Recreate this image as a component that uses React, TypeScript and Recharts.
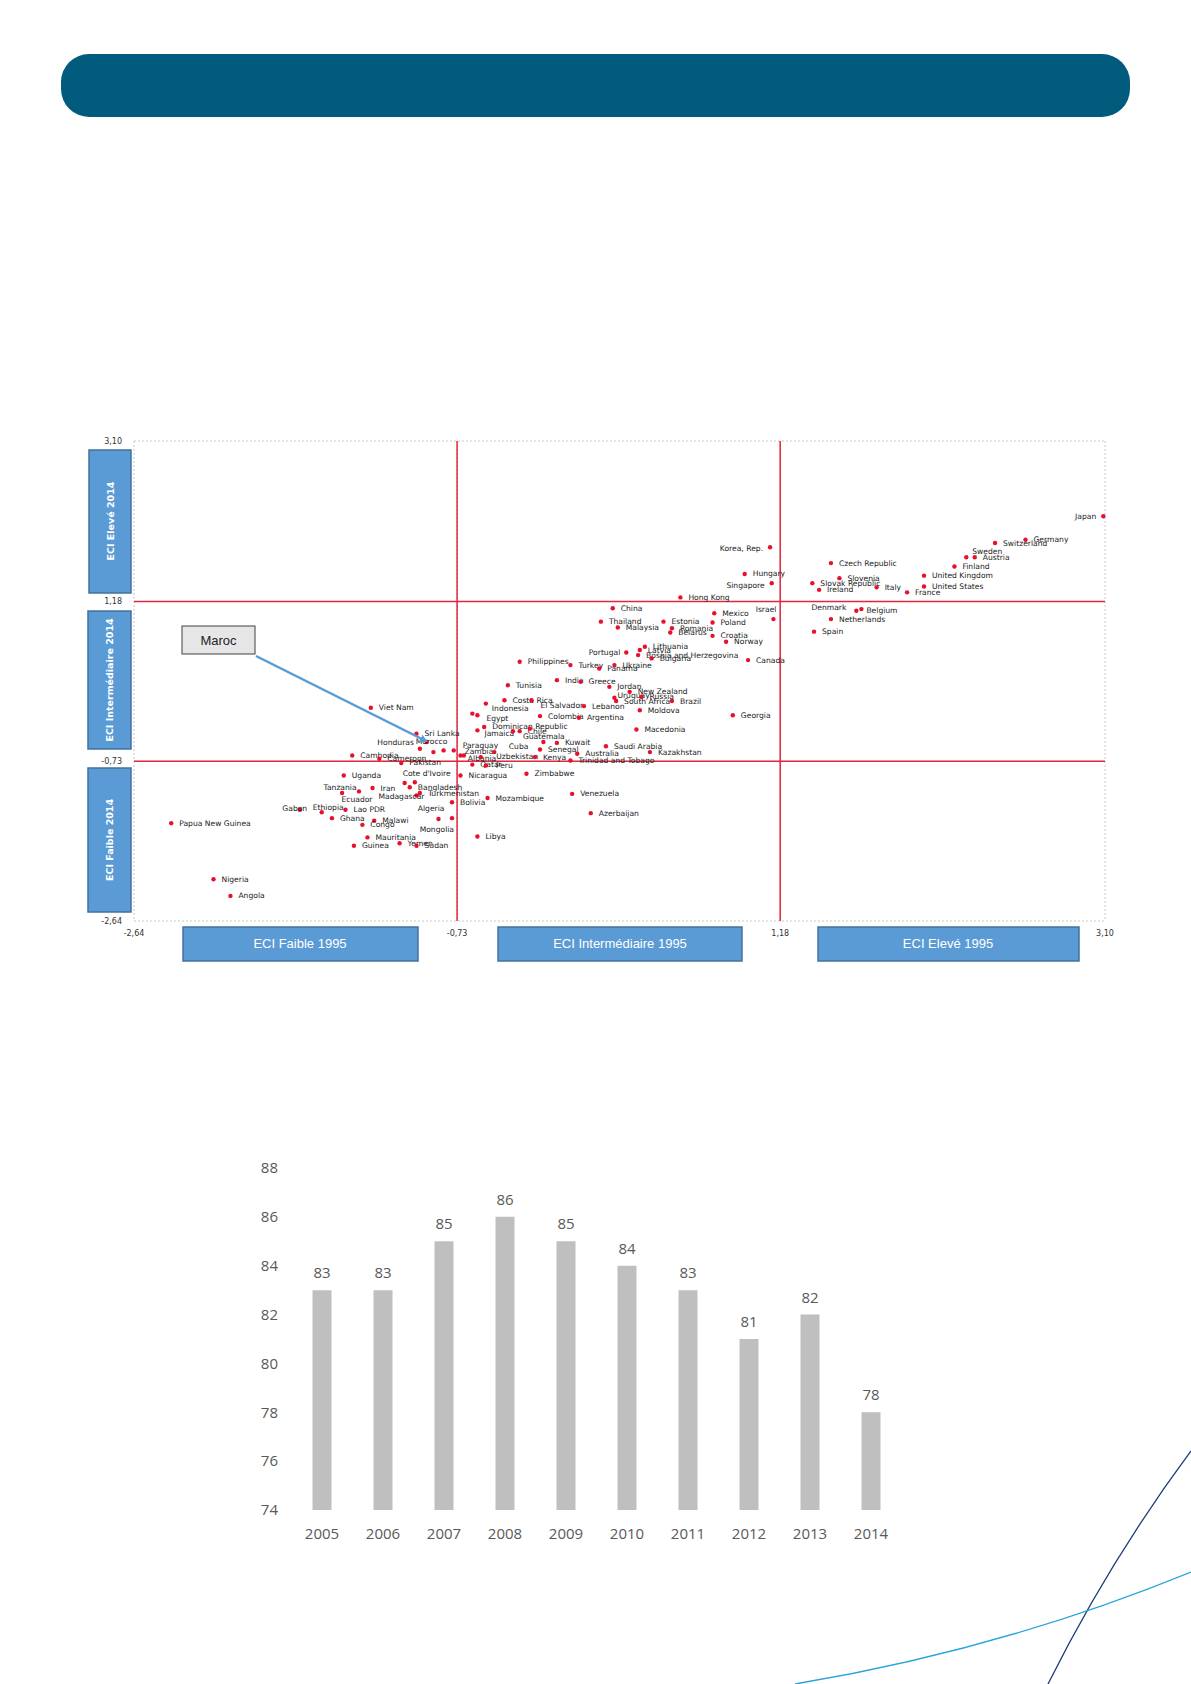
import React from 'react';
import {
  ScatterChart, Scatter, XAxis, YAxis, CartesianGrid, ReferenceLine,
  BarChart, Bar, LabelList,
} from 'recharts';

// ECI 1995 (x) vs ECI 2014 (y)
const countries = [
  'Japan', 'Germany', 'Switzerland', 'Sweden', 'Austria', 'Finland', 'United Kingdom', 'United States',
  'France', 'Italy', 'Czech Republic', 'Slovenia', 'Slovak Republic', 'Ireland', 'Korea, Rep.', 'Hungary',
  'Singapore', 'Hong Kong', 'Israel', 'Denmark', 'Belgium', 'Netherlands', 'Spain', 'Canada',
  'Mexico', 'Poland', 'Croatia', 'Norway', 'Estonia', 'Romania', 'Belarus', 'China',
  'Thailand', 'Malaysia', 'Lithuania', 'Latvia', 'Portugal', 'Bosnia and Herzegovina', 'Bulgaria', 'Philippines',
  'Turkey', 'Ukraine', 'Panama', 'India', 'Tunisia', 'Greece', 'Jordan', 'New Zealand',
  'Uruguay', 'Russia', 'South Africa', 'Brazil', 'Costa Rica', 'El Salvador', 'Indonesia', 'Lebanon',
  'Moldova', 'Egypt', '', 'Colombia', 'Argentina', 'Georgia', 'Dominican Republic', 'Jamaica',
  'Guatemala', 'Chile', '', 'Macedonia', 'Sri Lanka', 'Morocco', 'Viet Nam', 'Honduras',
  '', '', 'Paraguay', 'Zambia', 'Albania', '', 'Uzbekistan', 'Cuba',
  'Kuwait', 'Senegal', 'Kenya', 'Australia', 'Trinidad and Tobago', 'Saudi Arabia', 'Kazakhstan', 'Qatar',
  'Peru', 'Nicaragua', 'Zimbabwe', 'Cambodia', 'Cameroon', 'Pakistan', "Cote d'Ivoire", '',
  'Bangladesh', 'Turkmenistan', 'Madagascar', 'Uganda', 'Tanzania', 'Ecuador', 'Iran', 'Bolivia',
  'Mozambique', 'Venezuela', 'Azerbaijan', 'Gabon', 'Ethiopia', 'Lao PDR', 'Ghana', 'Malawi',
  'Congo', 'Algeria', 'Mongolia', 'Libya', 'Mauritania', 'Yemen', 'Sudan', 'Guinea',
  'Papua New Guinea', 'Nigeria', 'Angola',
];

const eci1995 = [
  3.09, 2.63, 2.45, 2.28, 2.33, 2.21, 2.03, 2.03,
  1.93, 1.75, 1.48, 1.53, 1.37, 1.41, 1.12, 0.97,
  1.13, 0.59, 1.14, 1.63, 1.66, 1.48, 1.38, 0.99,
  0.79, 0.78, 0.78, 0.86, 0.49, 0.54, 0.53, 0.19,
  0.12, 0.22, 0.38, 0.35, 0.27, 0.34, 0.42, -0.36,
  -0.06, 0.2, 0.11, -0.14, -0.43, 0.0, 0.17, 0.29,
  0.2, 0.36, 0.21, 0.54, -0.45, -0.29, -0.56, 0.02,
  0.35, -0.61, -0.64, -0.24, -0.01, 0.9, -0.57, -0.61,
  -0.4, -0.36, -0.3, 0.33, -0.97, -0.91, -1.24, -0.95,
  -0.87, -0.81, -0.75, -0.71, -0.69, -0.59, -0.51, -0.22,
  -0.14, -0.24, -0.27, -0.02, -0.06, 0.15, 0.41, -0.64,
  -0.56, -0.71, -0.32, -1.35, -1.19, -1.06, -1.04, -1.01,
  -0.98, -0.95, -0.97, -1.4, -1.41, -1.31, -1.23, -0.76,
  -0.55, -0.05, 0.06, -1.66, -1.53, -1.39, -1.47, -1.22,
  -1.29, -0.84, -0.76, -0.61, -1.26, -1.07, -0.97, -1.34,
  -2.42, -2.17, -2.07,
];

const eci2014 = [
  2.2, 1.92, 1.88, 1.71, 1.71, 1.6, 1.49, 1.36,
  1.29, 1.35, 1.64, 1.46, 1.4, 1.32, 1.83, 1.51,
  1.4, 1.23, 0.97, 1.07, 1.09, 0.97, 0.82, 0.48,
  1.04, 0.93, 0.77, 0.7, 0.94, 0.86, 0.81, 1.1,
  0.94, 0.87, 0.64, 0.6, 0.57, 0.54, 0.5, 0.46,
  0.42, 0.42, 0.38, 0.24, 0.18, 0.22, 0.16, 0.1,
  0.03, 0.04, -0.01, -0.01, 0.0, 0.0, -0.04, -0.07,
  -0.12, -0.18, -0.16, -0.19, -0.21, -0.18, -0.32, -0.36,
  -0.37, -0.37, -0.34, -0.35, -0.4, -0.5, -0.09, -0.58,
  -0.62, -0.6, -0.6, -0.66, -0.66, -0.68, -0.62, -0.5,
  -0.51, -0.59, -0.68, -0.64, -0.72, -0.55, -0.62, -0.77,
  -0.78, -0.9, -0.88, -0.66, -0.7, -0.75, -0.99, -1.04,
  -0.98, -1.11, -1.14, -0.9, -1.11, -1.09, -1.05, -1.22,
  -1.17, -1.12, -1.35, -1.31, -1.34, -1.31, -1.41, -1.44,
  -1.49, -1.42, -1.41, -1.63, -1.64, -1.71, -1.74, -1.74,
  -1.47, -2.14, -2.34,
];

const eciTicks = [-2.64, -0.73, 1.18, 3.1];
const eciTickLabels = ['-2,64', '-0,73', '1,18', '3,10'];

// bar chart
const years = ['2005', '2006', '2007', '2008', '2009', '2010', '2011', '2012', '2013', '2014'];
const barValues = [83, 83, 85, 86, 85, 84, 83, 81, 82, 78];
const barTicks = [74, 76, 78, 80, 82, 84, 86, 88];

const scatterData = countries.map((name, i) => ({ name, x: eci1995[i], y: eci2014[i] }));
const barData = years.map((year, i) => ({ year, value: barValues[i] }));

// label placement: [anchor, dx, dy], default is to the right of the dot
const labelPlacement: Record<string, [string, number, number]> = {
  'Korea, Rep.': ['end', -7, 1],
  'Singapore': ['end', -7, 2],
  'Japan': ['end', -7, 0],
  'Sweden': ['start', 6, -6],
  'Israel': ['end', 3, -10],
  'Denmark': ['end', -10, -3],
  'Portugal': ['end', -6, 0],
  'El Salvador': ['start', 9, 5],
  'Indonesia': ['start', 6, 5],
  'Egypt': ['start', 9, 3],
  'Jamaica': ['start', 7, 3],
  'Guatemala': ['start', 10, 5],
  'Morocco': ['start', -11, -1],
  'Honduras': ['end', -6, -6],
  'Paraguay': ['start', 9, -5],
  'Zambia': ['start', 4, -4],
  'Albania': ['start', 4, 3],
  'Uzbekistan': ['start', 2, 4],
  'Cuba': ['end', -15, 4],
  "Cote d'Ivoire": ['start', -2, -10],
  'Bangladesh': ['start', 3, 5],
  'Madagascar': ['end', 8, 1],
  'Tanzania': ['middle', -2, -6],
  'Ecuador': ['middle', -2, 8],
  'Gabon': ['middle', -5, -1],
  'Ethiopia': ['start', -9, -5],
  'Algeria': ['end', 6, -10],
  'Mongolia': ['end', 2, 11],
  'Belgium': ['start', 5, 1],
  'Uruguay': ['start', 3, -2],
  'Peru': ['start', 10, 0],
};

const renderCountry = (props: any) => {
  const { cx, cy, payload } = props;
  const [anchor, dx, dy] = labelPlacement[payload.name] || ['start', 8, 0];
  return (
    <g>
      <circle cx={cx} cy={cy} r={2.2} fill="#e8102a" />
      {payload.name ? (
        <text x={cx + dx} y={cy + dy} textAnchor={anchor as any} dominantBaseline="central"
          fontSize={7.6} fontFamily="DejaVu Sans" fill="#1a1a1a">{payload.name}</text>
      ) : null}
    </g>
  );
};

const fmt = (v: number) => eciTickLabels[eciTicks.indexOf(v)] ?? String(v);

const blue = '#5b9bd5';
const blueBorder = '#41719c';
const red = '#e0283c';

export default function App() {
  return (
    <div style={{ position: 'absolute', left: 0, top: 0, width: 1191, height: 1684, background: '#fff', overflow: 'hidden' }}>
      {/* header banner */}
      <div style={{ position: 'absolute', left: 61, top: 54, width: 1069, height: 63, borderRadius: 28, background: '#005b7d' }} />

      {/* scatter */}
      <div style={{ position: 'absolute', left: 0, top: 0 }}>
        <ScatterChart width={1191} height={1000} margin={{ top: 441, right: 86, bottom: 59, left: 94 }}>
          <CartesianGrid stroke="#c8c8c8" strokeDasharray="2 2" />
          <XAxis type="number" dataKey="x" domain={[-2.64, 3.1]} ticks={eciTicks} tickFormatter={fmt}
            axisLine={false} tickLine={false} height={20} tickMargin={3}
            tick={{ fontSize: 8, fontFamily: 'DejaVu Sans', fill: '#333' }} />
          <YAxis type="number" dataKey="y" domain={[-2.64, 3.1]} ticks={eciTicks} tickFormatter={fmt}
            axisLine={false} tickLine={false} width={40} tickMargin={6}
            tick={{ fontSize: 8, fontFamily: 'DejaVu Sans', fill: '#333' }} />
          <ReferenceLine x={-0.73} stroke={red} strokeWidth={1.5} />
          <ReferenceLine x={1.18} stroke={red} strokeWidth={1.5} />
          <ReferenceLine y={1.18} stroke={red} strokeWidth={1.5} />
          <ReferenceLine y={-0.73} stroke={red} strokeWidth={1.5} />
          <Scatter data={scatterData} shape={renderCountry} isAnimationActive={false} />
        </ScatterChart>
      </div>

      {/* category boxes and the Maroc callout */}
      <svg width={1191} height={1000} style={{ position: 'absolute', left: 0, top: 0, pointerEvents: 'none' }}>
        <defs>
          <marker id="arr" markerWidth="8" markerHeight="8" refX="6" refY="4" orient="auto" markerUnits="userSpaceOnUse">
            <path d="M0,0 L8,4 L0,8 z" fill={blue} />
          </marker>
        </defs>
        <rect x={89} y={450} width={42} height={143} fill={blue} stroke={blueBorder} strokeWidth={1.5} />
        <text transform="translate(114,521) rotate(-90)" textAnchor="middle" fontSize={9.5} fontWeight="bold" fontFamily="DejaVu Sans" fill="#fff">ECI Elevé 2014</text>
        <rect x={88} y={611} width={43} height={138} fill={blue} stroke={blueBorder} strokeWidth={1.5} />
        <text transform="translate(113,680) rotate(-90)" textAnchor="middle" fontSize={9.5} fontWeight="bold" fontFamily="DejaVu Sans" fill="#fff">ECI Intermédiaire 2014</text>
        <rect x={88} y={768} width={43} height={144} fill={blue} stroke={blueBorder} strokeWidth={1.5} />
        <text transform="translate(113,840) rotate(-90)" textAnchor="middle" fontSize={9.5} fontWeight="bold" fontFamily="DejaVu Sans" fill="#fff">ECI Faible 2014</text>

        <rect x={183} y={927} width={235} height={34} fill={blue} stroke={blueBorder} strokeWidth={1.5} />
        <text x={300} y={948} textAnchor="middle" fontSize={13} fontFamily="Liberation Sans" fill="#fff">ECI Faible 1995</text>
        <rect x={498} y={927} width={244} height={34} fill={blue} stroke={blueBorder} strokeWidth={1.5} />
        <text x={620} y={948} textAnchor="middle" fontSize={13} fontFamily="Liberation Sans" fill="#fff">ECI Intermédiaire 1995</text>
        <rect x={818} y={927} width={261} height={34} fill={blue} stroke={blueBorder} strokeWidth={1.5} />
        <text x={948} y={948} textAnchor="middle" fontSize={13} fontFamily="Liberation Sans" fill="#fff">ECI Elevé 1995</text>

        <line x1={256} y1={656} x2={426} y2={741} stroke={blue} strokeWidth={2.5} markerEnd="url(#arr)" />
        <rect x={182} y={626} width={73} height={28} fill="#e7e6e6" stroke="#404040" strokeWidth={1} />
        <text x={218.5} y={645} textAnchor="middle" fontSize={13} fontFamily="Liberation Sans" fill="#222">Maroc</text>
      </svg>

      {/* bar chart */}
      <div style={{ position: 'absolute', left: 200, top: 1140 }}>
        <BarChart width={720} height={420} data={barData} margin={{ top: 28, right: 18.5, bottom: 20, left: 31.5 }} barCategoryGap={0}>
          <XAxis dataKey="year" axisLine={false} tickLine={false} height={30} tickMargin={12}
            tick={{ fontSize: 15, fontFamily: 'Open Sans', fill: '#595959' }} />
          <YAxis domain={[74, 88]} ticks={barTicks} axisLine={false} tickLine={false} width={60} tickMargin={7.5}
            tick={{ fontSize: 15, fontFamily: 'Open Sans', fill: '#595959' }} />
          <Bar dataKey="value" fill="#bfbfbf" barSize={19} isAnimationActive={false}>
            <LabelList dataKey="value" position="top" offset={12} fill="#595959" fontSize={15} fontFamily="Open Sans" />
          </Bar>
        </BarChart>
      </div>

      {/* decorative curves */}
      <svg width={1191} height={1684} style={{ position: 'absolute', left: 0, top: 0, pointerEvents: 'none' }}>
        <path d="M1191,1451 Q1110,1560 1048,1684" fill="none" stroke="#1f3d7a" strokeWidth={1.3} />
        <path d="M795,1684 Q1000,1650 1191,1572" fill="none" stroke="#27a3dc" strokeWidth={1.3} />
      </svg>
    </div>
  );
}
